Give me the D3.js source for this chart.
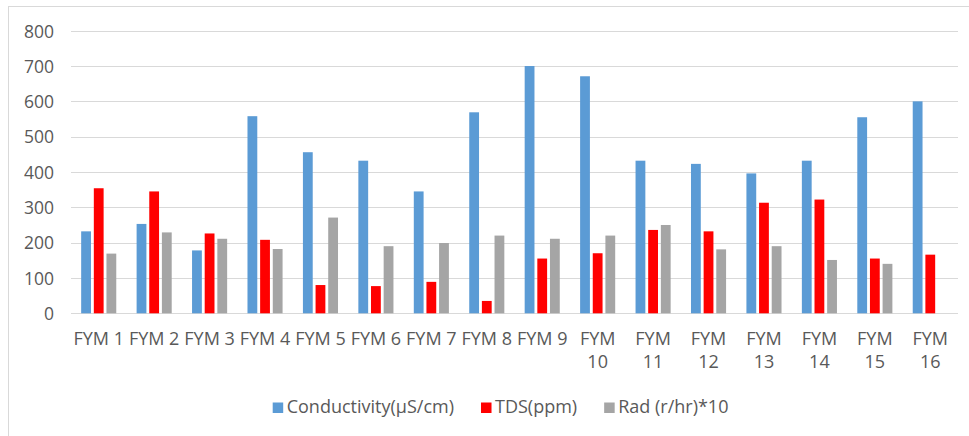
<!DOCTYPE html>
<html><head><meta charset="utf-8">
<script src="https://cdn.jsdelivr.net/npm/d3@7"></script>
<style>html,body{margin:0;padding:0;background:#fff;}svg{display:block;}</style>
</head><body>
<svg id="chart" width="969" height="436"></svg>
<script>
const categories = ["FYM 1","FYM 2","FYM 3","FYM 4","FYM 5","FYM 6","FYM 7","FYM 8","FYM 9","FYM 10","FYM 11","FYM 12","FYM 13","FYM 14","FYM 15","FYM 16"];
const seriesNames = ["Conductivity(µS/cm)","TDS(ppm)","Rad (r/hr)*10"];
const conductivity = [232,253,178,558,456,432,345,569,700,671,432,423,396,432,555,600];
const tds = [354,345,226,208,80,77,89,35,155,170,236,232,313,322,155,166];
const rad = [169,229,211,182,271,190,199,220,211,220,250,181,190,151,140,0];
const yTicks = [0,100,200,300,400,500,600,700,800];
const colors = ["#5B9BD5","#FF0000","#A5A5A5"];

(function(){
const series = [conductivity, tds, rad];
const svg = d3.select("#chart");
const font = "'Open Sans', 'Liberation Sans', sans-serif";
const textColor = "#595959";

// chart area border
svg.append("rect").attr("x",8.5).attr("y",6.5).attr("width",980).attr("height",450)
  .attr("fill","none").attr("stroke","#d9d9d9").attr("stroke-width",1);

const pLeft = 71, pRight = 958, pTop = 30.7, pBottom = 313.3;
const y = d3.scaleLinear().domain([0,800]).range([pBottom, pTop]);
const x0 = d3.scaleBand().domain(categories).range([pLeft, pRight]).padding(0);
const bw = x0.bandwidth();
const groupW = bw*0.633;
const x1 = d3.scaleBand().domain(d3.range(series.length))
  .range([(bw-groupW)/2, (bw+groupW)/2]).paddingInner(0.225).paddingOuter(0);

// gridlines
svg.append("g").selectAll("line").data(yTicks).join("line")
  .attr("x1",pLeft).attr("x2",pRight)
  .attr("y1",d=>Math.round(y(d))+0.5).attr("y2",d=>Math.round(y(d))+0.5)
  .attr("stroke","#d9d9d9").attr("stroke-width",1);

// y axis labels
const yAxis = d3.axisLeft(y).tickValues(yTicks).tickSize(0).tickPadding(0);
const yg = svg.append("g").attr("transform",`translate(54,0)`).call(yAxis);
yg.select(".domain").remove();
yg.selectAll("text").attr("font-family",font).attr("font-size","17.5px").attr("fill",textColor).attr("dy","0.36em");

// bars
const rows = categories.map((c,i)=>({c, vals: series.map(s=>s[i])}));
const groups = svg.append("g").selectAll("g").data(rows).join("g")
  .attr("transform",d=>`translate(${x0(d.c)},0)`);
groups.selectAll("rect").data(d=>d.vals.map((v,k)=>({v,k}))).join("rect")
  .attr("x",d=>x1(d.k)).attr("width",x1.bandwidth())
  .attr("y",d=>y(d.v)).attr("height",d=>y(0)-y(d.v))
  .attr("fill",d=>colors[d.k]);

// x labels with wrapping
const xg = svg.append("g");
categories.forEach(c=>{
  const cx = x0(c)+bw/2;
  const t = xg.append("text").attr("x",cx).attr("y",345).attr("text-anchor","middle")
    .attr("font-family",font).attr("font-size","18px").attr("fill",textColor).text(c);
  if (t.node().getComputedTextLength() > bw) {
    const words = c.split(" ");
    t.text(null);
    words.forEach((w,i)=>{
      t.append("tspan").attr("x",cx).attr("y",345+i*23.3).text(w);
    });
  }
});

// legend
const legend = svg.append("g");
const items = seriesNames.map((n,k)=>{
  const g = legend.append("g");
  g.append("rect").attr("x",0).attr("y",-10.5).attr("width",10.5).attr("height",10.5).attr("fill",colors[k]);
  const t = g.append("text").attr("x",14).attr("y",0).attr("font-family",font).attr("font-size","18px")
    .attr("fill",textColor).text(n);
  return {g, w: 14 + t.node().getComputedTextLength()};
});
const gap = 27;
let lx = 272.7;
items.forEach(it=>{ it.g.attr("transform",`translate(${lx},413)`); lx += it.w + gap; });
})();
</script>
</body></html>
